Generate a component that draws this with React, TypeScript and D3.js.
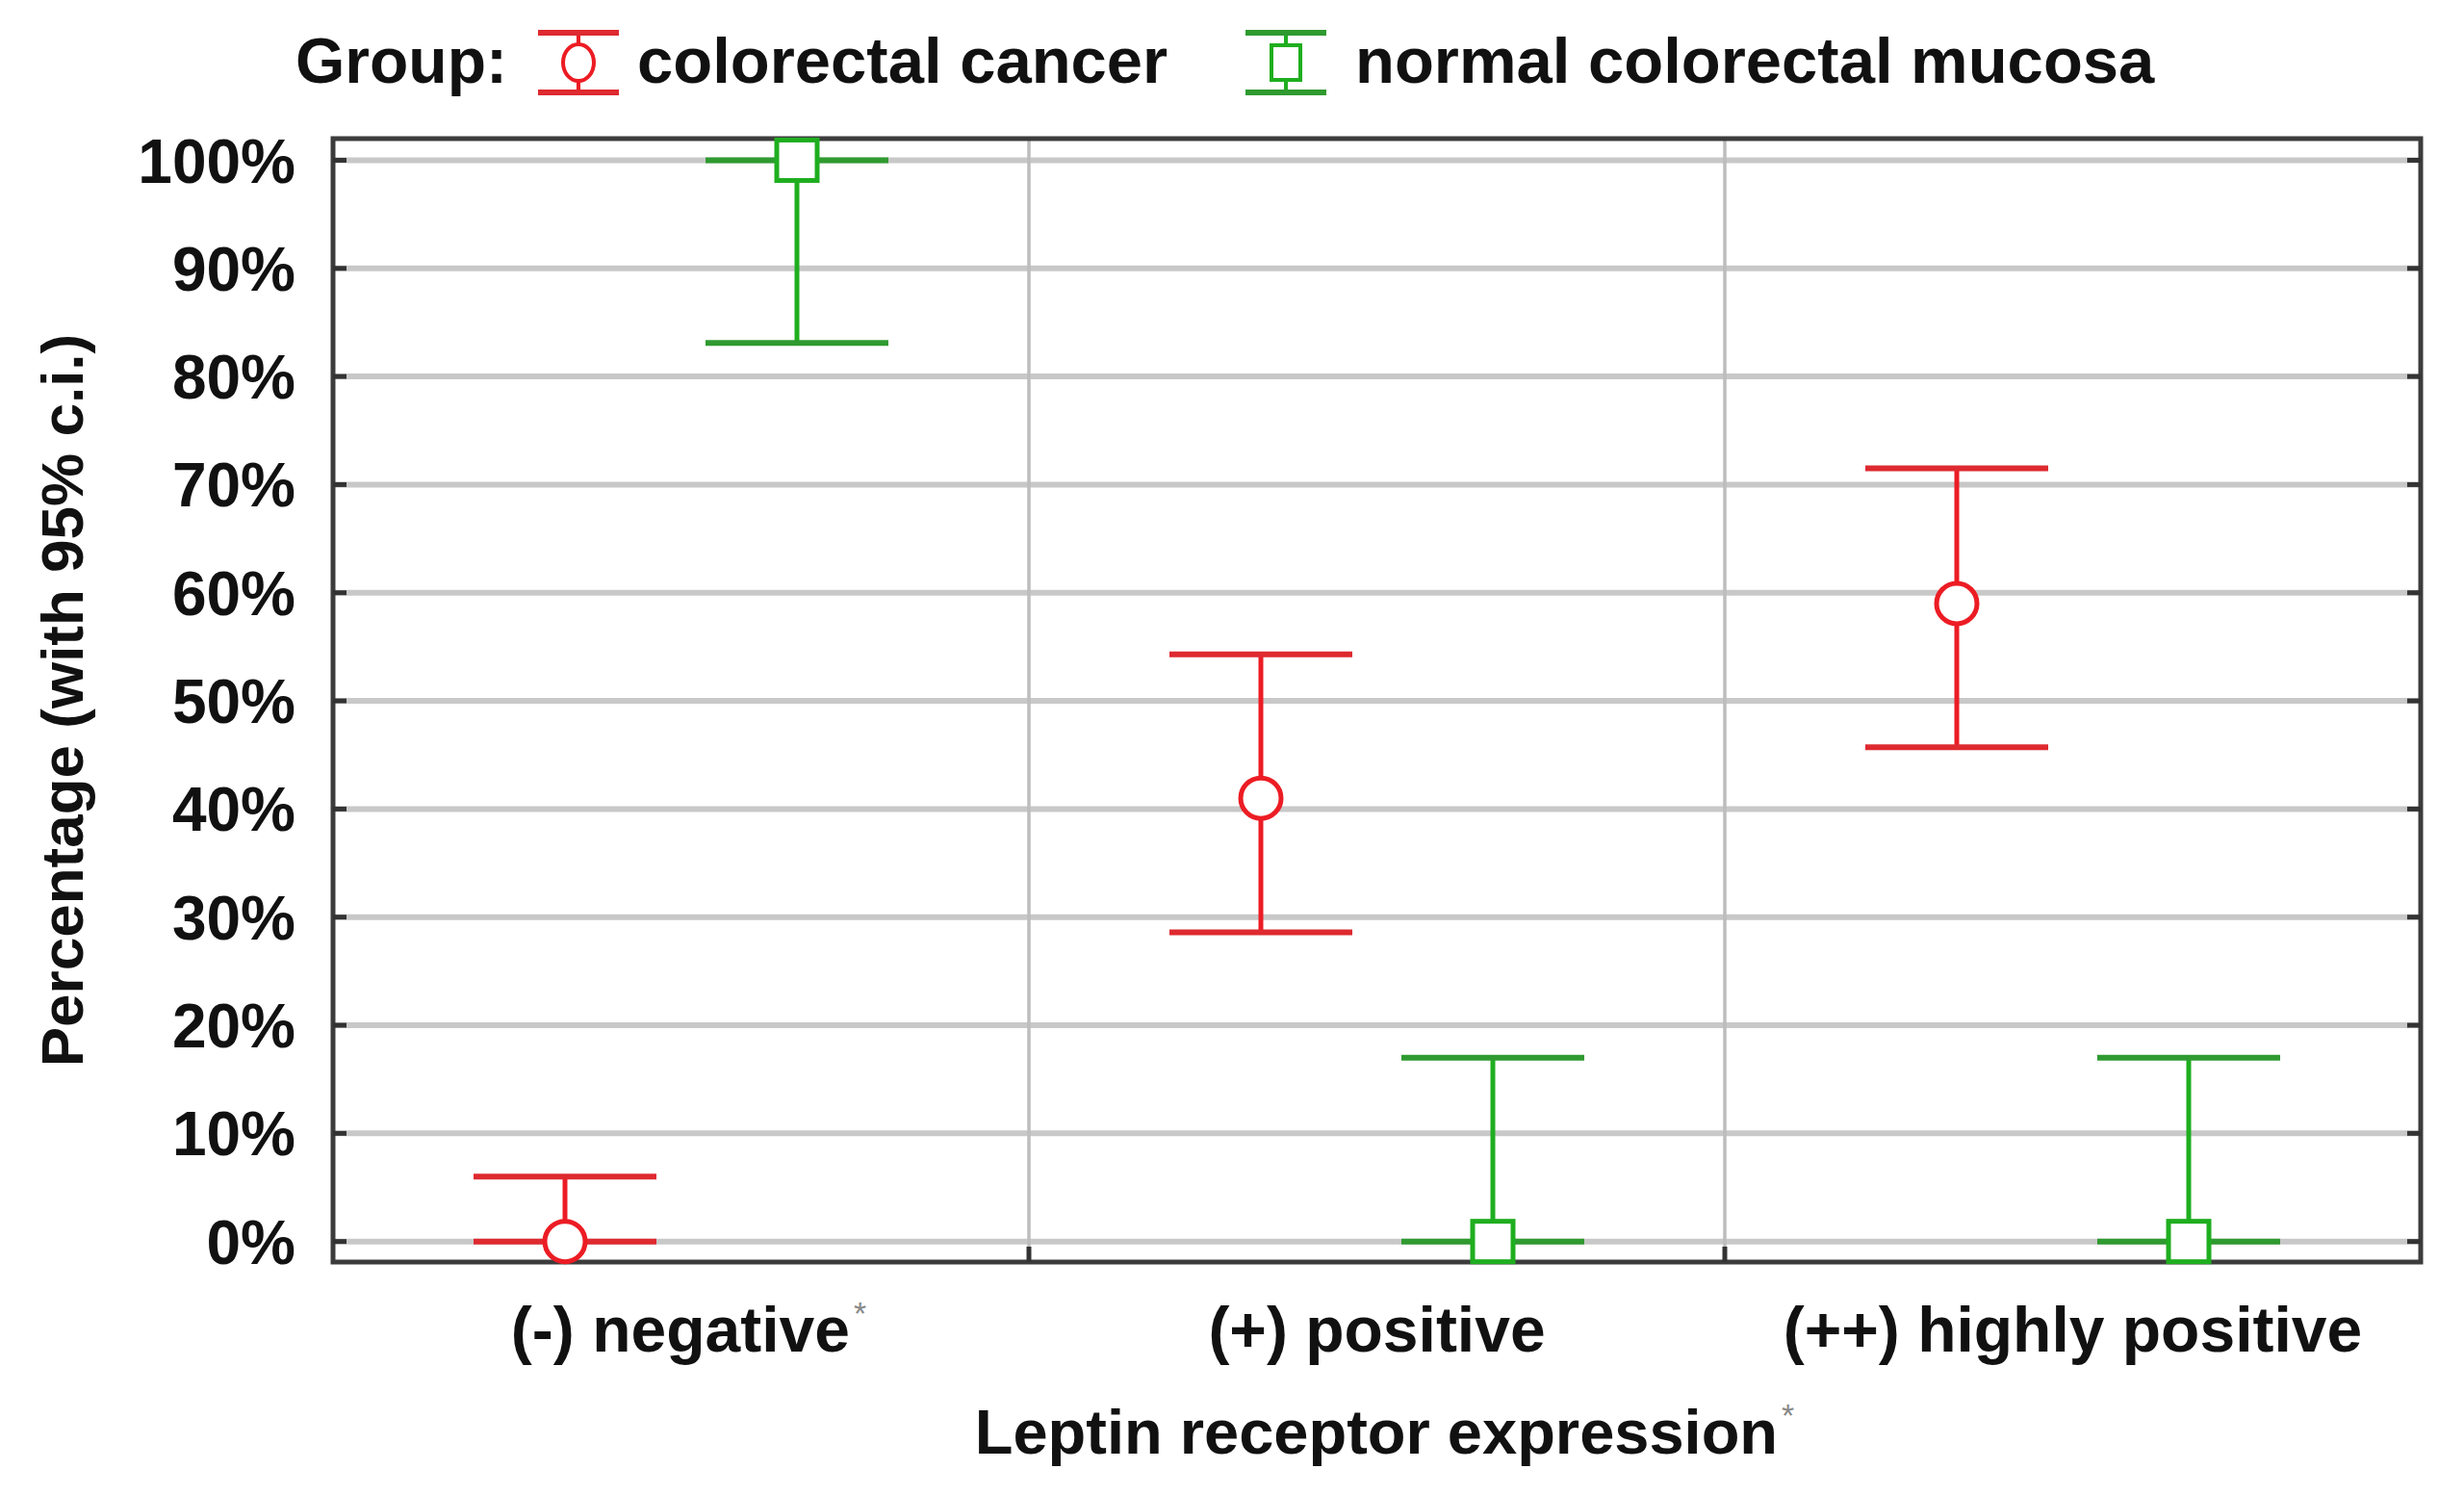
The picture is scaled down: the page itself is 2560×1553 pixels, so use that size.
import React, { useEffect, useRef } from 'react';
import * as d3 from 'd3';

// Leptin receptor expression categories
const categories = ['(-) negative', '(+) positive', '(++) highly positive'];
const categoryStar = [true, false, false];
const groups = ['colorectal cancer', 'normal colorectal mucosa'];

// percentages with 95% c.i.
const cancerMean = [0, 41, 59];
const cancerLow = [0, 28.6, 45.7];
const cancerHigh = [6, 54.3, 71.5];

const normalMean = [100, 0, 0];
const normalLow = [83.1, 0, 0];
const normalHigh = [100, 17, 17];

const yTicks = [0, 10, 20, 30, 40, 50, 60, 70, 80, 90, 100];

const groupColors = { line: ['#ec1c24', '#1fae1f'], cap: ['#de2a30', '#2f9a30'] };

const W = 2560;
const H = 1553;
const FONT = '"Liberation Sans", Arial, Helvetica, sans-serif';

export default function App() {
  const svgRef = useRef<SVGSVGElement>(null);

  useEffect(() => {
    document.body.style.margin = '0';
    if (!svgRef.current) return;
    const svg = d3.select(svgRef.current);
    svg.selectAll('*').remove();

    const left = 346, right = 2515, top = 144, bottom = 1311;

    const x = d3.scaleBand<string>().domain(categories).range([left, right]).padding(0);
    const bw = x.bandwidth();
    const xg = d3.scalePoint<string>().domain(groups).range([bw / 3, (2 * bw) / 3]);
    const y = d3.scaleLinear().domain([-1.9, 102]).range([bottom, top]);

    const g = svg.append('g');

    // horizontal grid
    g.append('g')
      .selectAll('line')
      .data(yTicks)
      .join('line')
      .attr('x1', left)
      .attr('x2', right)
      .attr('y1', d => y(d))
      .attr('y2', d => y(d))
      .attr('stroke', '#c8c8c8')
      .attr('stroke-width', 6);

    // category dividers
    const dividers = categories.slice(1).map(c => x(c) as number);
    g.append('g')
      .selectAll('line')
      .data(dividers)
      .join('line')
      .attr('x1', d => d)
      .attr('x2', d => d)
      .attr('y1', top)
      .attr('y2', bottom)
      .attr('stroke', '#bdbdbd')
      .attr('stroke-width', 3.5);

    // frame
    g.append('rect')
      .attr('x', left)
      .attr('y', top)
      .attr('width', right - left)
      .attr('height', bottom - top)
      .attr('fill', 'none')
      .attr('stroke', '#3c3c3c')
      .attr('stroke-width', 5);

    // inner ticks
    const ticks = g.append('g').attr('stroke', '#333').attr('stroke-width', 5);
    yTicks.forEach(t => {
      ticks.append('line').attr('x1', left).attr('x2', left + 14).attr('y1', y(t)).attr('y2', y(t));
      ticks.append('line').attr('x1', right - 14).attr('x2', right).attr('y1', y(t)).attr('y2', y(t));
    });
    dividers.forEach(d => {
      ticks.append('line').attr('x1', d).attr('x2', d).attr('y1', bottom).attr('y2', bottom - 16);
    });

    // y tick labels
    g.append('g')
      .selectAll('text')
      .data(yTicks)
      .join('text')
      .attr('x', 307)
      .attr('y', d => y(d))
      .attr('dy', '0.36em')
      .attr('text-anchor', 'end')
      .attr('font-family', FONT)
      .attr('font-weight', 'bold')
      .attr('font-size', 64)
      .attr('fill', '#111')
      .text(d => `${d}%`);

    // x category labels
    categories.forEach((c, i) => {
      const t = g.append('text')
        .attr('x', (x(c) as number) + bw / 2 + (categoryStar[i] ? 8 : 0))
        .attr('y', 1404)
        .attr('text-anchor', 'middle')
        .attr('font-family', FONT)
        .attr('font-weight', 'bold')
        .attr('font-size', 66)
        .attr('fill', '#111');
      t.append('tspan').text(c);
      if (categoryStar[i]) {
        t.append('tspan').attr('font-size', 34).attr('dy', -28).attr('dx', 4).attr('fill', '#888').attr('font-weight', 'normal').text('*');
      }
    });

    // axis titles
    const xt = g.append('text')
      .attr('x', (left + right) / 2 + 8)
      .attr('y', 1510)
      .attr('text-anchor', 'middle')
      .attr('font-family', FONT)
      .attr('font-weight', 'bold')
      .attr('font-size', 65)
      .attr('fill', '#111');
    xt.append('tspan').text('Leptin receptor expression');
    xt.append('tspan').attr('font-size', 34).attr('dy', -28).attr('dx', 4).attr('fill', '#888').attr('font-weight', 'normal').text('*');

    g.append('text')
      .attr('transform', `translate(86, ${(top + bottom) / 2}) rotate(-90)`)
      .attr('text-anchor', 'middle')
      .attr('font-family', FONT)
      .attr('font-weight', 'bold')
      .attr('font-size', 62)
      .attr('fill', '#111')
      .text('Percentage (with 95% c.i.)');

    // error bars
    const series = [
      { mean: cancerMean, low: cancerLow, high: cancerHigh },
      { mean: normalMean, low: normalLow, high: normalHigh },
    ];
    const capHalf = 95;
    series.forEach((s, gi) => {
      const grp = g.append('g');
      categories.forEach((c, i) => {
        const cx = (x(c) as number) + (xg(groups[gi]) as number);
        grp.append('line')
          .attr('x1', cx).attr('x2', cx)
          .attr('y1', y(s.low[i])).attr('y2', y(s.high[i]))
          .attr('stroke', groupColors.line[gi]).attr('stroke-width', 5);
        [s.low[i], s.high[i]].forEach(v => {
          grp.append('line')
            .attr('x1', cx - capHalf).attr('x2', cx + capHalf)
            .attr('y1', y(v)).attr('y2', y(v))
            .attr('stroke', groupColors.cap[gi]).attr('stroke-width', 6);
        });
        const my = y(s.mean[i]);
        if (gi === 0) {
          grp.append('circle')
            .attr('cx', cx).attr('cy', my).attr('r', 21)
            .attr('fill', '#fff').attr('stroke', groupColors.line[gi]).attr('stroke-width', 5);
        } else {
          grp.append('rect')
            .attr('x', cx - 21).attr('y', my - 21).attr('width', 42).attr('height', 42)
            .attr('fill', '#fff').attr('stroke', groupColors.line[gi]).attr('stroke-width', 5);
        }
      });
    });

    // legend
    const lg = g.append('g');
    lg.append('text')
      .attr('x', 307).attr('y', 86)
      .attr('font-family', FONT).attr('font-weight', 'bold').attr('font-size', 66).attr('fill', '#111')
      .text('Group:');
    const legendItems = [
      { cx: 601, tx: 662 },
      { cx: 1336, tx: 1408 },
    ];
    legendItems.forEach((it, gi) => {
      const ltop = 34, lbot = 96, mid = (ltop + lbot) / 2;
      lg.append('line').attr('x1', it.cx).attr('x2', it.cx).attr('y1', ltop).attr('y2', lbot)
        .attr('stroke', groupColors.line[gi]).attr('stroke-width', 4);
      [ltop, lbot].forEach(v => {
        lg.append('line').attr('x1', it.cx - 42).attr('x2', it.cx + 42).attr('y1', v).attr('y2', v)
          .attr('stroke', groupColors.cap[gi]).attr('stroke-width', 6);
      });
      if (gi === 0) {
        lg.append('ellipse').attr('cx', it.cx).attr('cy', mid).attr('rx', 16).attr('ry', 19)
          .attr('fill', '#fff').attr('stroke', groupColors.line[gi]).attr('stroke-width', 4);
      } else {
        lg.append('rect').attr('x', it.cx - 15).attr('y', mid - 18).attr('width', 30).attr('height', 36)
          .attr('fill', '#fff').attr('stroke', groupColors.line[gi]).attr('stroke-width', 4);
      }
      lg.append('text')
        .attr('x', it.tx).attr('y', 86)
        .attr('font-family', FONT).attr('font-weight', 'bold').attr('font-size', 67).attr('fill', '#111')
        .text(groups[gi]);
    });
  }, []);

  return <svg ref={svgRef} width={W} height={H} style={{ display: 'block', background: '#fff' }} />;
}
